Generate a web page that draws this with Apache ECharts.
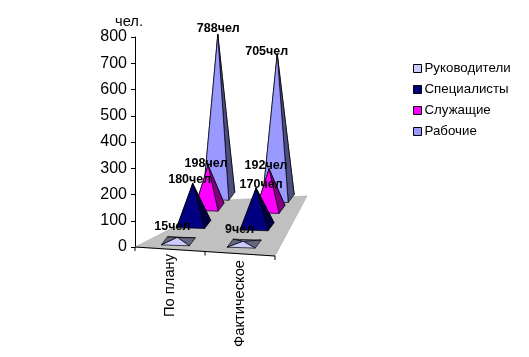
<!DOCTYPE html>
<html>
<head>
<meta charset="utf-8">
<title>chart</title>
<style>
html,body{margin:0;padding:0;background:#fff;}
#chart{width:529px;height:357px;}
</style>
<script src="https://cdn.jsdelivr.net/npm/echarts@6/dist/echarts.min.js"></script>
</head>
<body>
<div id="chart"></div>
<script>
var categories = ['По плану', 'Фактическое'];
var seriesNames = ['Руководители', 'Специалисты', 'Служащие', 'Рабочие'];
var managers = [15, 9];
var specialists = [180, 170];
var clerks = [198, 192];
var workers = [788, 705];
var yTicks = {min: 0, max: 800, interval: 100};
var unitLabel = 'чел';
var seriesValues = [managers, specialists, clerks, workers];

// look of the fake 3d, one entry per series going from the front row to the back row
var frontColors = ['#ccccff', '#000080', '#ff00ff', '#9999ff'];
var sideColors = ['#666680', '#000040', '#800080', '#4d4d80'];
var topColors = ['#9999cc', '#000060', '#c000c0', '#7373bf'];
var rowDepth = [0, 0.38, 0.76, 1];
var rowHeight = [1, 0.86, 0.8, 0.78];
var rowHalfWidth = [14, 14, 12, 13];
var labelShift = [
	[[-5, -11], [-3.5, -11.5]],
	[[-3, -4], [5, -3]],
	[[-2, -2], [-3, -3]],
	[[0.5, -6], [-10.5, -2]]
];

var font = '"Liberation Sans", Arial, sans-serif';

// ground position of a bar, x/y are the grid point of its category at value 0
function project(pt, depth, midX){
	var k = 0.94 + (0.849 - 0.94) * depth;
	var s = 6.25 + (43.5 - 6.25) * depth;
	var lift = 4.5 + (50 - 4.5) * depth;
	return [midX + (pt[0] - midX) * k + s, pt[1] - lift + (pt[0] - midX) * 0.033];
}

function renderPyramid(row){
	return function(params, api){
		var sys = params.coordSys;
		var midX = sys.x + sys.width / 2;
		var ground = api.coord([api.value(0), 0]);
		var top = api.coord([api.value(0), api.value(1)]);
		var c = project(ground, rowDepth[row], midX);
		var h = (ground[1] - top[1]) * rowHeight[row];
		var w = rowHalfWidth[row];
		var fl = [c[0] - w - 3, c[1] + 4 - w * 0.033];
		var fr = [c[0] + w - 3, c[1] + 4 + w * 0.033];
		var br = [c[0] + w + 3, c[1] - 4 + w * 0.033];
		var bl = [c[0] - w + 3, c[1] - 4 - w * 0.033];
		var apex = [c[0] - 1, c[1] - h];
		function face(points, color){
			return {
				type: 'polygon',
				shape: {points: points},
				style: {fill: color, stroke: '#000', lineWidth: 0.7}
			};
		}
		return {
			type: 'group',
			children: [
				face([bl, br, apex], topColors[row]),
				face([fl, bl, apex], sideColors[row]),
				face([fr, br, apex], sideColors[row]),
				face([fl, fr, apex], frontColors[row])
			]
		};
	};
}

function renderLabel(params, api){
	var sys = params.coordSys;
	var row = api.value(2);
	var cat = api.value(0);
	var ground = api.coord([cat, 0]);
	var top = api.coord([cat, api.value(1)]);
	var c = project(ground, rowDepth[row], sys.x + sys.width / 2);
	var shift = labelShift[row][cat];
	return {
		type: 'text',
		style: {
			x: c[0] - 1 + shift[0],
			y: c[1] - (ground[1] - top[1]) * rowHeight[row] + shift[1],
			text: api.value(1) + unitLabel,
			fill: '#000',
			font: 'bold 12.5px ' + font,
			align: 'center',
			verticalAlign: 'middle'
		}
	};
}

// floor and the slanted category line under it
function renderFloor(params){
	var s = params.coordSys;
	var bottom = s.y + s.height;
	var left = [s.x, bottom];
	var right = [s.x + s.width, bottom + 9];
	var mid = [(left[0] + right[0]) / 2, (left[1] + right[1]) / 2];
	var children = [{
		type: 'polygon',
		shape: {points: [left, right, [s.x + s.width + 32, bottom - 51], [s.x + s.width - 48, bottom - 47]]},
		style: {fill: '#c0c0c0', stroke: '#a0a0a0', lineWidth: 0.5}
	}, {
		type: 'line',
		shape: {x1: left[0], y1: left[1], x2: right[0], y2: right[1]},
		style: {stroke: '#000', lineWidth: 1}
	}];
	[left, mid, right].forEach(function(p){
		children.push({
			type: 'line',
			shape: {x1: p[0], y1: p[1], x2: p[0], y2: p[1] + 4},
			style: {stroke: '#000', lineWidth: 1}
		});
	});
	return {type: 'group', children: children};
}

var series = [{
	type: 'custom',
	coordinateSystem: 'cartesian2d',
	renderItem: renderFloor,
	data: [[0, 0]],
	z: 1,
	silent: true
}];
seriesNames.forEach(function(name, row){
	series.push({
		name: name,
		type: 'custom',
		coordinateSystem: 'cartesian2d',
		renderItem: renderPyramid(row),
		itemStyle: {color: frontColors[row]},
		data: seriesValues[row].map(function(v, i){ return [i, v]; }),
		z: 10 - row
	});
});
var labelData = [];
seriesValues.forEach(function(values, row){
	values.forEach(function(v, i){ labelData.push([i, v, row]); });
});
series.push({
	type: 'custom',
	coordinateSystem: 'cartesian2d',
	renderItem: renderLabel,
	data: labelData,
	z: 20,
	silent: true
});

var chart = echarts.init(document.getElementById('chart'), null, {renderer: 'canvas'});
chart.setOption({
	animation: false,
	backgroundColor: '#fff',
	textStyle: {fontFamily: font},
	legend: {
		data: seriesNames,
		orient: 'vertical',
		left: 408,
		top: 57,
		icon: 'rect',
		itemWidth: 8,
		itemHeight: 8,
		itemGap: 8,
		itemStyle: {borderColor: '#000', borderWidth: 1},
		textStyle: {fontFamily: font, fontSize: 13.3, color: '#000', padding: [0, 0, 0, -2]}
	},
	grid: {left: 135, top: 37, width: 140, height: 210},
	xAxis: {
		type: 'category',
		data: categories,
		axisLine: {show: false},
		axisTick: {show: false},
		axisLabel: {
			rotate: 90,
			margin: 7,
			interval: 0,
			color: '#000',
			fontFamily: font,
			fontSize: 14.7,
			formatter: function(v){ return v == categories[1] ? '{low|' + v + '}' : '{high|' + v + '}'; },
			rich: {
				high: {fontFamily: font, fontSize: 14.7, color: '#000'},
				low: {fontFamily: font, fontSize: 14.7, color: '#000', padding: [0, 6, 0, 0]}
			}
		}
	},
	yAxis: {
		type: 'value',
		min: yTicks.min,
		max: yTicks.max,
		interval: yTicks.interval,
		name: 'чел.',
		nameLocation: 'end',
		nameGap: 0,
		nameTextStyle: {fontFamily: font, fontSize: 14.7, color: '#000', padding: [0, 0, 0, -12]},
		splitLine: {show: false},
		axisLine: {show: true, lineStyle: {color: '#000', width: 1}},
		axisTick: {show: true, length: 4, lineStyle: {color: '#000'}},
		axisLabel: {color: '#000', fontFamily: font, fontSize: 16, margin: 8}
	},
	series: series
});
</script>
</body>
</html>
